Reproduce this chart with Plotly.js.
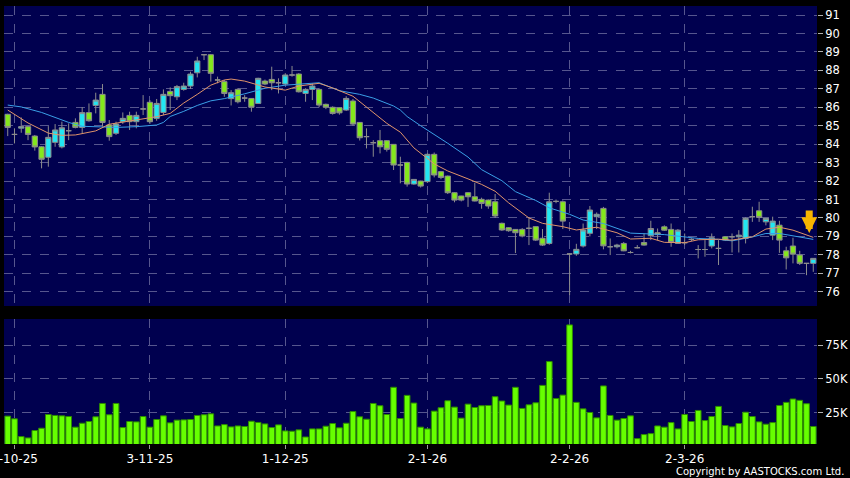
<!DOCTYPE html>
<html><head><meta charset="utf-8">
<script src="https://cdn.plot.ly/plotly-3.0.1.min.js"></script>
<style>html,body{margin:0;padding:0;background:#000;}#chart{width:850px;height:478px;}</style>
</head><body><div id="chart"></div>
<script>
const openP  = [85.62,84.53,84.87,84.95,84.44,83.86,83.29,84.10,83.85,84.73,85.18,84.91,85.71,86.10,86.70,85.04,84.59,85.22,85.56,85.22,85.91,86.27,85.40,85.72,86.86,86.57,86.97,87.15,87.87,88.85,88.85,87.48,87.39,86.47,86.97,86.50,86.48,86.21,87.42,87.51,87.33,87.26,87.75,87.80,86.75,86.97,86.97,86.16,86.00,85.98,85.85,86.34,85.18,84.41,84.08,84.19,84.19,83.99,82.87,83.01,81.84,82.00,81.97,83.45,82.51,82.27,81.37,81.19,81.37,81.15,81.01,80.97,80.88,79.71,79.47,79.38,79.38,79.44,79.53,78.90,78.62,80.90,80.88,78.05,78.05,78.48,79.17,80.07,80.52,78.44,78.44,78.62,78.13,78.39,78.67,79.04,79.20,79.52,79.38,78.62,78.66,78.84,78.29,78.29,78.48,78.35,78.98,78.98,78.98,78.89,80.07,80.39,79.79,79.07,79.61,78.22,78.48,77.99,77.54,77.54];
const highP  = [85.65,84.86,85.45,85.00,84.50,83.90,84.98,85.09,85.22,85.13,85.40,86.00,86.21,86.79,87.26,85.31,85.22,85.72,85.76,85.76,86.66,86.39,86.45,86.97,87.08,87.21,87.33,87.93,88.74,88.88,88.88,87.66,87.48,86.93,87.03,86.66,86.50,87.60,87.50,88.20,87.57,87.85,88.24,87.85,87.03,87.30,87.03,86.20,86.05,86.00,86.60,86.45,85.20,84.86,84.22,84.77,84.22,84.00,83.32,83.05,82.10,82.02,83.50,83.55,82.55,82.30,81.40,81.20,81.40,81.91,81.10,81.00,81.30,79.75,79.50,79.40,79.45,80.05,79.55,79.40,81.37,81.00,80.95,78.10,78.60,79.70,80.65,80.30,80.60,78.89,78.60,78.70,78.22,78.53,79.16,79.85,79.43,79.60,79.70,79.40,79.16,78.90,78.53,78.80,79.16,78.80,79.00,79.16,79.34,80.03,80.61,80.88,80.00,80.07,79.85,78.44,78.93,78.22,77.54,77.81];
const lowP   = [84.44,84.04,84.62,84.22,83.65,82.69,82.78,83.86,83.77,84.22,84.86,84.59,85.22,85.67,84.95,84.19,84.50,85.10,84.77,84.86,85.58,85.10,85.27,85.58,85.85,86.39,86.90,87.00,87.62,88.56,87.39,87.30,86.57,86.10,86.21,86.30,85.76,86.20,87.20,86.93,86.75,87.20,87.66,86.80,86.30,86.39,86.00,85.90,85.60,85.60,85.80,85.00,84.20,83.77,83.32,83.50,83.60,82.60,81.88,81.70,81.80,81.65,81.90,82.20,82.10,81.30,80.85,80.90,80.60,80.90,80.50,80.50,80.00,79.30,79.25,78.10,78.95,78.53,78.75,78.48,78.55,80.80,79.40,75.82,77.95,78.40,79.00,79.40,78.30,77.99,78.35,78.20,78.08,78.35,78.50,78.80,78.80,79.30,78.44,78.60,78.53,78.75,77.81,77.90,78.35,77.45,78.75,78.13,78.13,78.62,79.79,79.79,79.60,78.80,78.11,77.21,77.54,77.45,76.90,77.08];
const closeP = [84.91,84.53,84.95,84.53,83.85,83.18,84.37,84.77,84.89,84.73,84.91,85.71,85.27,86.39,85.18,84.41,85.09,85.40,85.22,85.56,85.91,85.22,86.21,86.70,86.63,87.12,87.15,87.80,88.51,88.85,87.84,87.48,86.75,86.79,86.30,86.50,86.00,87.57,87.26,87.33,87.33,87.75,87.75,86.84,86.97,87.15,86.12,86.00,85.67,85.70,86.48,85.09,84.35,84.41,84.08,83.86,83.72,82.87,82.87,81.84,82.09,81.73,83.45,82.33,82.20,81.37,80.97,80.97,81.15,80.92,80.79,80.65,80.11,79.35,79.31,79.20,79.02,79.44,78.80,78.53,80.88,80.90,79.83,78.05,78.30,79.35,80.43,80.20,78.49,78.44,78.53,78.22,78.13,78.39,78.53,79.43,79.10,79.34,78.67,79.34,78.66,78.84,78.29,78.29,78.93,78.35,78.80,78.98,79.07,79.98,80.07,80.03,79.98,79.83,78.80,77.84,78.04,77.54,77.54,77.81];
// volume in thousands of shares
const volumeK = [22.3,20.3,7.1,6.1,11.6,13.3,23.5,22.8,22.5,22.0,14.1,17.0,18.3,21.8,31.7,23.3,31.7,13.8,18.3,18.0,22.0,14.1,19.8,22.5,17.3,19.3,19.5,19.8,22.8,23.3,24.0,15.0,16.0,14.3,15.0,14.6,18.5,17.6,16.5,13.8,15.8,11.3,11.1,12.1,6.8,12.8,12.8,14.8,16.8,13.6,17.0,25.7,21.8,20.0,31.7,30.0,23.5,43.7,20.5,37.7,32.0,14.1,12.8,26.0,28.5,33.7,29.0,20.8,31.2,28.7,30.0,30.2,36.7,33.5,30.5,43.7,28.0,30.7,32.2,45.1,62.8,35.4,37.9,90.0,32.5,27.7,25.0,21.0,44.7,22.8,19.3,20.5,22.5,5.6,8.6,9.3,15.0,14.1,17.5,12.8,23.5,18.3,26.5,19.0,22.0,29.5,15.3,14.3,16.8,25.2,22.0,18.0,16.3,17.5,30.2,32.5,35.0,34.0,31.5,14.6];
// moving averages (candle index, value)
const ma10X = [0,1,3,6,8,10,13,15,18,20,22,24,26,28,30,32,33,35,38,41,43,46,48,51,53,56,58,60,63,65,68,70,72,74,77,79,82,84,87,90,92,95,97,100,102,105,107,110,112,114,116,119];
const ma10  = [85.85,85.62,85.15,84.60,84.48,84.50,84.72,85.08,85.25,85.40,85.49,85.67,86.23,86.70,87.20,87.48,87.53,87.42,87.10,86.93,87.15,87.30,87.05,86.60,86.03,85.13,84.65,83.80,82.93,82.55,82.12,81.82,81.45,80.82,80.00,79.71,79.53,79.35,79.50,79.20,78.86,78.90,78.68,78.66,78.82,78.85,78.80,78.98,79.40,79.50,79.34,78.95];
const ma20X = [0,2,5,9,11,14,16,19,22,23,24,26,28,30,32,35,38,41,43,46,49,52,54,57,58,59,61,62,65,68,70,73,75,78,80,83,85,88,90,92,97,100,102,105,107,110,112,114,116,119];
const ma20  = [86.12,86.02,85.72,85.18,84.97,84.94,84.91,84.95,85.04,85.18,85.50,85.78,86.10,86.35,86.47,86.73,87.03,87.20,87.26,87.33,86.90,86.70,86.50,86.07,85.85,85.50,85.00,84.77,84.05,83.30,82.62,82.02,81.43,80.95,80.55,80.20,79.89,79.70,79.45,79.18,79.10,78.95,78.89,78.84,78.76,78.97,79.16,79.16,79.02,78.84];
const tickIdx = [1,21,41,62,83,100];
const tickLabels = ['2-10-25','3-11-25','1-12-25','2-1-26','2-2-26','2-3-26'];
const volTicks = [25,50,75];
const volTickLabels = ['25K','50K','75K'];

const idx = openP.map((_, i) => i);
const WICK = '#8c8c8c', UP = '#22e6f2', DOWN = '#84e81c', FLAT = '#9a9a9a';
function subset(test) {
  const s = {x:[], open:[], high:[], low:[], close:[]};
  idx.forEach(i => { if (test(openP[i], closeP[i])) {
    s.x.push(i); s.open.push(openP[i]); s.high.push(highP[i]); s.low.push(lowP[i]); s.close.push(closeP[i]); } });
  return s;
}
function candle(s, fill) {
  return Object.assign({type:'candlestick', xaxis:'x', yaxis:'y', whiskerwidth:0, hoverinfo:'skip',
    increasing:{fillcolor:fill, line:{color:WICK, width:1}},
    decreasing:{fillcolor:fill, line:{color:WICK, width:1}}}, s);
}
const traces = [
  {type:'bar', x: idx, y: volumeK, xaxis:'x', yaxis:'y2', marker:{color:'#66ff00', line:{color:'#2e8c00', width:1}}, hoverinfo:'skip'},
  candle(subset((o,c) => c > o), UP),
  candle(subset((o,c) => c < o), DOWN),
  candle(subset((o,c) => c === o), FLAT),
  {type:'scatter', mode:'lines', x: ma20X, y: ma20, xaxis:'x', yaxis:'y', line:{color:'#3a9fe6', width:1}, hoverinfo:'skip'},
  {type:'scatter', mode:'lines', x: ma10X, y: ma10, xaxis:'x', yaxis:'y', line:{color:'#e0946a', width:1}, hoverinfo:'skip'}
];
const grid = '#56568e';
const last = idx.length - 1;
const layout = {
  width: 850, height: 478,
  margin: {l:4, r:33, t:6, b:34},
  paper_bgcolor: '#000000', plot_bgcolor: '#00004f',
  showlegend: false, hovermode: false,
  boxgap: 0.12, boxgroupgap: 0.12, bargap: 0.16,
  font: {family: 'DejaVu Sans, sans-serif', color: '#ffffff', size: 11},
  xaxis: {range: [-0.55, 119.55], anchor: 'y2', tickmode: 'array', tickvals: tickIdx, ticktext: tickLabels,
    ticks: 'outside', ticklen: 4, tickcolor: '#9a9a9a', showgrid: true, gridcolor: grid, griddash: 'dash', gridwidth: 1,
    zeroline: false, showline: false, rangeslider: {visible: false}, tickfont: {size: 12}, ticklabeloverflow: 'allow'},
  yaxis: {domain: [0.3151, 1], range: [75.23, 91.49], side: 'right', dtick: 1, tick0: 0, ticks: 'outside', ticklen: 5,
    tickcolor: '#b0b0b0', gridcolor: grid, griddash: 'dash', gridwidth: 1, zeroline: false, showline: false, tickfont: {size: 11.5}},
  yaxis2: {domain: [0, 0.2854], range: [1.6, 94.4], side: 'right', tickmode: 'array', tickvals: volTicks, ticktext: volTickLabels,
    ticks: 'outside', ticklen: 5, tickcolor: '#b0b0b0', gridcolor: grid, griddash: 'dash', gridwidth: 1, zeroline: false, showline: false, tickfont: {size: 11.5}},
  annotations: [
    {xref: 'paper', yref: 'paper', x: 1.036, y: -0.062, xanchor: 'right', yanchor: 'middle', showarrow: false,
     text: 'Copyright by AASTOCKS.com Ltd.', font: {size: 10, color: '#ffffff'}},
    {xref: 'x', yref: 'y', x: last - 0.6, y: ma10[ma10.length - 1] + 0.23, ax: 0, ay: -24, showarrow: true,
     arrowhead: 2, arrowsize: 0.45, arrowwidth: 7, arrowcolor: '#f7b500', standoff: 0, text: ''}
  ]
};
Plotly.newPlot('chart', traces, layout, {staticPlot: true, displayModeBar: false});
</script></body></html>
